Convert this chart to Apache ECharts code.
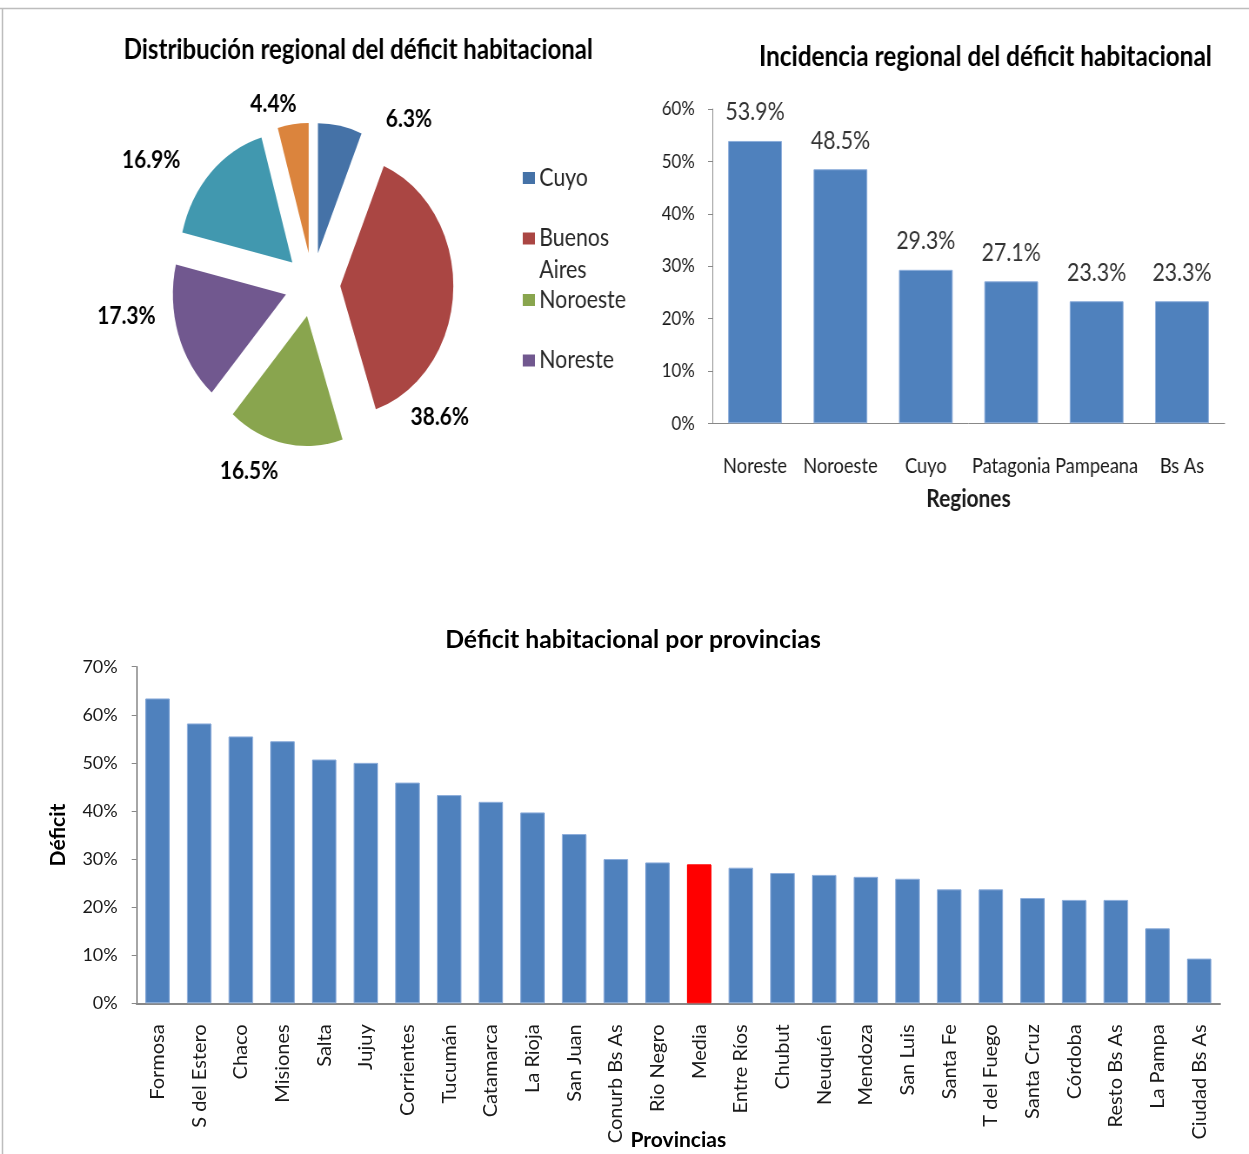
<!DOCTYPE html>
<html>
<head>
<meta charset="utf-8">
<script src="https://cdn.jsdelivr.net/npm/echarts@6/dist/echarts.min.js"></script>
<style>
html, body { margin: 0; padding: 0; background: #ffffff; }
#bottom { position: absolute; left: 0; top: 0; width: 1249px; height: 1154px; }
#top { position: absolute; left: 0; top: 0; width: 1436px; height: 540px; transform-origin: 0 0; transform: scaleX(0.86978); }
</style>
</head>
<body>
<div id="bottom"></div>
<div id="top"></div>
<script>
// ---------- DATA ----------
const pieRegions = ['Cuyo', 'Buenos Aires', 'Noroeste', 'Noreste', 'Pampeana', 'Patagonia'];
const pieShares = [6.3, 38.6, 16.5, 17.3, 16.9, 4.4];
const legendRegions = ['Cuyo', 'Buenos Aires', 'Noroeste', 'Noreste'];

const incidenceRegions = ['Noreste', 'Noroeste', 'Cuyo', 'Patagonia', 'Pampeana', 'Bs As'];
const incidenceValues = [53.9, 48.5, 29.3, 27.1, 23.3, 23.3];

const provinces = ['Formosa', 'S del Estero', 'Chaco', 'Misiones', 'Salta', 'Jujuy', 'Corrientes', 'Tucumán',
  'Catamarca', 'La Rioja', 'San Juan', 'Conurb Bs As', 'Rio Negro', 'Media', 'Entre Ríos', 'Chubut', 'Neuquén',
  'Mendoza', 'San Luis', 'Santa Fe', 'T del Fuego', 'Santa Cruz', 'Córdoba', 'Resto Bs As', 'La Pampa', 'Ciudad Bs As'];
const provinceValues = [63.4, 58.2, 55.5, 54.5, 50.7, 50.0, 45.9, 43.3, 41.9, 39.7, 35.2, 30.0, 29.3, 28.9,
  28.2, 27.1, 26.7, 26.3, 25.9, 23.7, 23.7, 21.9, 21.5, 21.5, 15.6, 9.3];
const highlightedProvince = 'Media';

// ---------- STYLE ----------
const FONT = 'Lato';
const TXT = '#1a1a1a';
const pieColors = ['#4572A7', '#AA4643', '#89A54E', '#71588F', '#4198AF', '#DB843D'];
const barBlue = '#4F81BD';
const pieLabelNudge = [[45.5, 3], [-64, 126], [-0.5, 18], [-11.5, -21], [-22.5, -6], [10.5, -10]];
const legendIconCenterY = [178, 238.5, 300, 360.5];
const legendLineH = 32;
const pct1 = v => v.toFixed(1) + '%';

// ---------- TOP (pie + regional bars), drawn wide then squeezed horizontally ----------
const topChart = echarts.init(document.getElementById('top'));
topChart.setOption({
  animation: false,
  backgroundColor: 'transparent',
  textStyle: { fontFamily: FONT },
  color: pieColors,
  title: [
    { text: 'Distribución regional del déficit habitacional', left: 412, top: 50, textAlign: 'center', textVerticalAlign: 'middle', padding: 0,
      textStyle: { fontFamily: FONT, fontWeight: 'bold', fontSize: 27.6, color: '#000' } },
    { text: 'Incidencia regional del déficit habitacional', left: 1133, top: 57, textAlign: 'center', textVerticalAlign: 'middle', padding: 0,
      textStyle: { fontFamily: FONT, fontWeight: 'bold', fontSize: 28, color: '#000' } }
  ],
  legend: legendRegions.map((name, i) => {
    const twoLines = name === 'Buenos Aires';
    return {
      data: [name], orient: 'vertical', left: 601, padding: 0,
      top: legendIconCenterY[i] - (twoLines ? 1.5 * legendLineH : 0.5 * legendLineH),
      itemWidth: 14, itemHeight: 12, icon: 'rect', selectedMode: false,
      formatter: n => n === 'Buenos Aires' ? '\nBuenos\nAires' : n,
      textStyle: { fontFamily: FONT, fontSize: 24.5, color: '#262626', lineHeight: legendLineH }
    };
  }),
  grid: { left: 819, right: 28, top: 109, bottom: 116.7, outerBoundsMode: 'none' },
  xAxis: {
    type: 'category', data: incidenceRegions,
    axisTick: { show: false },
    axisLine: { show: true, lineStyle: { color: '#888', width: 1 } },
    axisLabel: { interval: 0, margin: 32, fontFamily: FONT, fontSize: 21, color: TXT },
    name: 'Regiones', nameLocation: 'middle', nameGap: 64, nameMoveOverlap: false,
    nameTextStyle: { fontFamily: FONT, fontWeight: 'bold', fontSize: 24, color: TXT }
  },
  yAxis: {
    type: 'value', min: 0, max: 60, interval: 10,
    axisLine: { show: true, lineStyle: { color: '#888', width: 1 } },
    axisTick: { show: true, length: 5, lineStyle: { color: '#888' } },
    splitLine: { show: false },
    axisLabel: { formatter: '{value}%', margin: 20, fontFamily: FONT, fontSize: 19.5, color: TXT }
  },
  series: [
    {
      type: 'pie', center: [359.2, 284.7], radius: 130, startAngle: 90, clockwise: true,
      selectedMode: 'multiple', selectedOffset: 32, avoidLabelOverlap: false,
      emphasis: { disabled: true },
      data: pieRegions.map((n, i) => ({ name: n, value: pieShares[i], selected: true })),
      label: { show: true, position: 'outside', formatter: p => pct1(p.value),
        fontFamily: FONT, fontWeight: 'bold', fontSize: 24, color: '#000' },
      labelLine: { show: false, length: 10, length2: 0 },
      labelLayout: p => ({ dx: pieLabelNudge[p.dataIndex][0], dy: pieLabelNudge[p.dataIndex][1] })
    },
    {
      type: 'bar', data: incidenceValues, barCategoryGap: '37%',
      itemStyle: { color: barBlue, borderColor: '#8eaedb', borderWidth: 1 },
      emphasis: { disabled: true },
      label: { show: true, position: 'top', distance: 16, formatter: p => pct1(p.value),
        fontFamily: FONT, fontSize: 24.5, color: '#333' }
    }
  ]
});

// ---------- BOTTOM (provinces) ----------
const bottomChart = echarts.init(document.getElementById('bottom'));
bottomChart.setOption({
  animation: false,
  backgroundColor: '#ffffff',
  textStyle: { fontFamily: FONT },
  title: { text: 'Déficit habitacional por provincias', left: 633, top: 640, textAlign: 'center', textVerticalAlign: 'middle', padding: 0,
    textStyle: { fontFamily: FONT, fontWeight: 'bold', fontSize: 24.8, color: '#000' } },
  graphic: [
    { type: 'line', shape: { x1: 0, y1: 8.5, x2: 1249, y2: 8.5 }, style: { stroke: '#bdbdbd', lineWidth: 1.5 } },
    { type: 'line', shape: { x1: 2.5, y1: 8, x2: 2.5, y2: 1154 }, style: { stroke: '#bdbdbd', lineWidth: 1.5 } }
  ],
  grid: { left: 136.7, right: 29, top: 666.7, bottom: 150.7, outerBoundsMode: 'none' },
  xAxis: {
    type: 'category', data: provinces,
    axisTick: { show: false },
    axisLine: { show: true, lineStyle: { color: '#888', width: 2 } },
    axisLabel: { interval: 0, rotate: 90, margin: 21, fontFamily: FONT, fontSize: 20, color: TXT },
    name: 'Provincias', nameLocation: 'middle', nameGap: 126, nameMoveOverlap: false,
    nameTextStyle: { fontFamily: FONT, fontWeight: 'bold', fontSize: 21, color: '#000' }
  },
  yAxis: {
    type: 'value', min: 0, max: 70, interval: 10,
    axisLine: { show: true, lineStyle: { color: '#888', width: 1.5 } },
    axisTick: { show: true, length: 5, lineStyle: { color: '#888' } },
    splitLine: { show: false },
    axisLabel: { formatter: '{value}%', margin: 19, fontFamily: FONT, fontSize: 18, color: TXT },
    name: 'Déficit', nameLocation: 'middle', nameRotate: 90, nameGap: 68, nameMoveOverlap: false,
    nameTextStyle: { fontFamily: FONT, fontWeight: 'bold', fontSize: 21, color: '#000' }
  },
  series: [{
    type: 'bar', barCategoryGap: '41%',
    itemStyle: { color: barBlue, borderColor: '#8eaedb', borderWidth: 1 },
    emphasis: { disabled: true },
    data: provinceValues.map((v, i) => provinces[i] === highlightedProvince
      ? { value: v, itemStyle: { color: '#FF0000', borderColor: '#FF0000' } } : v)
  }]
});
</script>
</body>
</html>
